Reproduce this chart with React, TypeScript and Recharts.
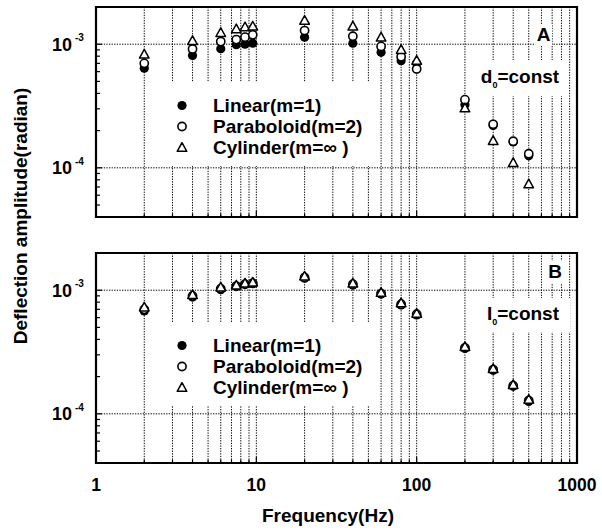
import React from "react";
import {
  CartesianGrid,
  Legend,
  ReferenceArea,
  ReferenceLine,
  Scatter,
  ScatterChart,
  XAxis,
  YAxis,
} from "recharts";

// frequencies (Hz) shared by every series
const freqs = [2, 4, 6, 7.5, 8.5, 9.5, 20, 40, 60, 80, 100, 200, 300, 400, 500];

// panel A: d0 = const
const linearA = [6.4e-4, 8.1e-4, 9.2e-4, 9.9e-4, 1.0e-3, 1.02e-3, 1.14e-3, 1.02e-3, 8.6e-4, 7.35e-4, 7.0e-4, 3.24e-4, 2.2e-4, 1.62e-4, 1.25e-4];
const parabA = [7.0e-4, 9.15e-4, 1.05e-3, 1.09e-3, 1.14e-3, 1.19e-3, 1.29e-3, 1.16e-3, 9.6e-4, 7.9e-4, 6.3e-4, 3.56e-4, 2.25e-4, 1.64e-4, 1.3e-4];
const cylA = [8.3e-4, 1.07e-3, 1.24e-3, 1.33e-3, 1.38e-3, 1.4e-3, 1.56e-3, 1.4e-3, 1.14e-3, 9.05e-4, 7.4e-4, 3.05e-4, 1.66e-4, 1.1e-4, 7.4e-5];

// panel B: I0 = const
const linearB = [6.8e-4, 8.8e-4, 1.01e-3, 1.07e-3, 1.11e-3, 1.13e-3, 1.25e-3, 1.1e-3, 9.3e-4, 7.6e-4, 6.3e-4, 3.38e-4, 2.25e-4, 1.67e-4, 1.26e-4];
const parabB = [7.0e-4, 9.0e-4, 1.03e-3, 1.08e-3, 1.12e-3, 1.14e-3, 1.27e-3, 1.12e-3, 9.4e-4, 7.7e-4, 6.4e-4, 3.42e-4, 2.28e-4, 1.69e-4, 1.28e-4];
const cylB = [7.3e-4, 9.2e-4, 1.06e-3, 1.1e-3, 1.14e-3, 1.16e-3, 1.3e-3, 1.14e-3, 9.6e-4, 7.9e-4, 6.5e-4, 3.5e-4, 2.32e-4, 1.72e-4, 1.31e-4];

const seriesNames = ["Linear(m=1)", "Paraboloid(m=2)", "Cylinder(m=\u221e )"];

const xTicks = [1, 2, 3, 4, 5, 6, 7, 8, 9, 10, 20, 30, 40, 50, 60, 70, 80, 90, 100, 200, 300, 400, 500, 600, 700, 800, 900, 1000];
const xLabels = [1, 10, 100, 1000];
const yTicks = [4e-5, 5e-5, 6e-5, 7e-5, 8e-5, 9e-5, 1e-4, 2e-4, 3e-4, 4e-4, 5e-4, 6e-4, 7e-4, 8e-4, 9e-4, 1e-3, 2e-3];
const yMajor = [1e-4, 1e-3];

const font = "Arial, 'Liberation Sans', Helvetica, sans-serif";

const toRows = (vals: number[]) => freqs.map((f, i) => ({ f, v: vals[i] }));

const FilledDot = (p: any) => <circle cx={p.cx} cy={p.cy} r={4.6} fill="#000" />;
const OpenDot = (p: any) => (
  <circle cx={p.cx} cy={p.cy} r={4.1} fill="#fff" stroke="#000" strokeWidth={1.6} />
);
const Tri = (p: any) => {
  const s = 4.8;
  const pts = `${p.cx},${p.cy - s} ${p.cx - s},${p.cy + s * 0.8} ${p.cx + s},${p.cy + s * 0.8}`;
  return <polygon points={pts} fill="#fff" stroke="#000" strokeWidth={1.5} strokeLinejoin="round" />;
};

const symbolFor = (name: string, cx: number, cy: number) => {
  if (name === seriesNames[0]) return <FilledDot cx={cx} cy={cy} />;
  if (name === seriesNames[1]) return <OpenDot cx={cx} cy={cy} />;
  return <Tri cx={cx} cy={cy} />;
};

const LegendBox = (props: any) => {
  const items: string[] =
    props.payload && props.payload.length ? props.payload.map((e: any) => e.value) : [...seriesNames];
  items.sort((a, b) => seriesNames.indexOf(a) - seriesNames.indexOf(b));
  return (
    <div style={{ background: "#fff", paddingTop: 13, height: "100%", boxSizing: "border-box" }}>
      {items.map((n) => (
        <div key={n} style={{ display: "flex", alignItems: "center", height: 21 }}>
          <svg width={53} height={21}>
            {symbolFor(n, 22, 10.5)}
          </svg>
          <span style={{ fontFamily: font, fontWeight: "bold", fontSize: 19, color: "#000", whiteSpace: "nowrap" }}>
            {n}
          </span>
        </div>
      ))}
    </div>
  );
};

const XTick = (props: any) => {
  const { x, y, payload, showLabel } = props;
  const major = xLabels.includes(payload.value);
  return (
    <g>
      <line x1={x} x2={x} y1={y} y2={y - (major ? 6 : 3.5)} stroke="#000" strokeWidth={1.2} />
      {showLabel && major && (
        <text x={x} y={y + 28} textAnchor="middle" fontFamily={font} fontWeight="bold" fontSize={17.5} fill="#000">
          {payload.value}
        </text>
      )}
    </g>
  );
};

const YTick = (props: any) => {
  const { x, y, payload } = props;
  const major = yMajor.some((m) => Math.abs(m - payload.value) / m < 1e-6);
  const exp = Math.round(Math.log10(payload.value));
  return (
    <g>
      <line x1={x} x2={x + (major ? 6 : 4)} y1={y} y2={y} stroke="#000" strokeWidth={1.2} />
      {major && (
        <g fontFamily={font} fontWeight="bold" fill="#000">
          <text x={x - 24} y={y + 6.5} textAnchor="end" fontSize={18}>
            10
          </text>
          <text x={x - 21} y={y - 3} fontSize={10}>
            {exp}
          </text>
        </g>
      )}
    </g>
  );
};

function Panel({ data, showLabels, height, legendTop }: any) {
  const [lin, par, cyl] = data;
  return (
    <ScatterChart width={602} height={height} margin={{ top: 7, right: 25, bottom: 0, left: 0 }}>
      <CartesianGrid vertical horizontal={false} stroke="#000" strokeDasharray="1.3 1.3" />
      <ReferenceLine y={1e-4} stroke="#000" strokeDasharray="1.3 1.3" />
      <ReferenceLine y={1e-3} stroke="#000" strokeDasharray="1.3 1.3" />
      <XAxis
        dataKey="f"
        type="number"
        scale="log"
        domain={[1, 1000]}
        allowDataOverflow
        ticks={xTicks}
        interval={0}
        axisLine={false}
        tickLine={false}
        tickSize={0}
        tickMargin={0}
        height={height - 217}
        tick={<XTick showLabel={showLabels} />}
      />
      <YAxis
        dataKey="v"
        type="number"
        scale="log"
        domain={[4e-5, 2e-3]}
        allowDataOverflow
        ticks={yTicks}
        interval={0}
        axisLine={false}
        tickLine={false}
        tickSize={0}
        tickMargin={0}
        width={96}
        tick={<YTick />}
      />
      <Legend
        layout="vertical"
        align="center"
        verticalAlign="middle"
        content={<LegendBox />}
        wrapperStyle={{ left: 160, top: legendTop, width: 220, height: 84 }}
      />
      <Scatter name={seriesNames[0]} data={toRows(lin)} shape={FilledDot} isAnimationActive={false} />
      <Scatter name={seriesNames[1]} data={toRows(par)} shape={OpenDot} isAnimationActive={false} />
      <Scatter name={seriesNames[2]} data={toRows(cyl)} shape={Tri} isAnimationActive={false} />
      <ReferenceArea
        x1={1}
        x2={1000}
        y1={4e-5}
        y2={2e-3}
        fill="none"
        stroke="#000"
        strokeWidth={2.2}
        ifOverflow="visible"
      />
    </ScatterChart>
  );
}

const tag = (text: React.ReactNode, left: number, top: number, w: number, h: number) => (
  <div
    style={{
      position: "absolute",
      left,
      top,
      width: w,
      height: h,
      background: "#fff",
      display: "flex",
      alignItems: "center",
      justifyContent: "center",
      fontFamily: font,
      fontWeight: "bold",
      fontSize: 19,
      color: "#000",
      whiteSpace: "nowrap",
    }}
  >
    {text}
  </div>
);

export default function App() {
  return (
    <div style={{ position: "absolute", left: 0, top: 0, width: 602, height: 531, background: "#fff", overflow: "hidden" }}>
      <div style={{ position: "absolute", left: 0, top: 0 }}>
        <Panel data={[linearA, parabA, cylA]} showLabels={false} height={240} legendTop={82} />
      </div>
      <div style={{ position: "absolute", left: 0, top: 246 }}>
        <Panel data={[linearB, parabB, cylB]} showLabels height={285} legendTop={76} />
      </div>

      {tag("A", 535, 24, 17, 22)}
      {tag(
        <span>
          d<sub style={{ fontSize: 9 }}>0</sub>=const
        </span>,
        472,
        60,
        96,
        36
      )}
      {tag("B", 546, 261, 18, 22)}
      {tag(
        <span>
          I<sub style={{ fontSize: 9 }}>0</sub>=const
        </span>,
        476,
        298,
        94,
        34
      )}

      <div
        style={{
          position: "absolute",
          left: 21 - 160,
          top: 216 - 11,
          width: 320,
          height: 22,
          lineHeight: "22px",
          textAlign: "center",
          transform: "rotate(-90deg)",
          fontFamily: font,
          fontWeight: "bold",
          fontSize: 19,
          color: "#000",
          whiteSpace: "nowrap",
        }}
      >
        Deflection amplitude(radian)
      </div>
      <div
        style={{
          position: "absolute",
          left: 328 - 100,
          top: 505,
          width: 200,
          height: 22,
          lineHeight: "22px",
          textAlign: "center",
          fontFamily: font,
          fontWeight: "bold",
          fontSize: 19,
          color: "#000",
        }}
      >
        Frequency(Hz)
      </div>
    </div>
  );
}
